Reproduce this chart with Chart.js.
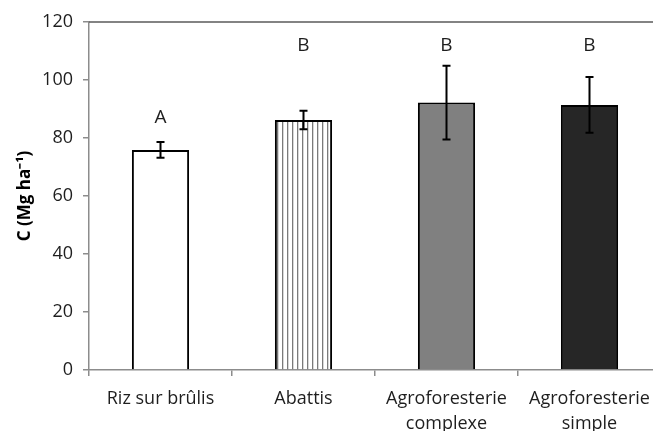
<!DOCTYPE html>
<html>
<head>
<meta charset="utf-8">
<script src="https://cdn.jsdelivr.net/npm/chart.js@4/dist/chart.umd.min.js"></script>
<style>
  html, body { margin: 0; padding: 0; background: #fff; overflow: hidden; }
  #wrap { width: 653px; height: 431px; overflow: hidden; }
</style>
</head>
<body>
<div id="wrap"><canvas id="chart" width="680" height="431"></canvas></div>
<script>
// data
const categories = ['Riz sur brûlis', 'Abattis', ['Agroforesterie', 'complexe'], ['Agroforesterie', 'simple']];
const carbon = [75.9, 86.2, 92.2, 91.4];
const errors = [2.7, 3.2, 12.7, 9.6];
const letters = ['A', 'B', 'B', 'B'];
const yTicks = [0, 20, 40, 60, 80, 100, 120];

const FONT = "'Open Sans', sans-serif";

// vertical hatching for the second bar
function stripes() {
  const c = document.createElement('canvas');
  c.width = 5; c.height = 10;
  const g = c.getContext('2d');
  g.fillStyle = '#fff';
  g.fillRect(0, 0, 5, 10);
  g.fillStyle = '#7a7a7a';
  g.fillRect(2, 0, 1.3, 10);
  return g.createPattern(c, 'repeat');
}

const fills = ['#ffffff', stripes(), '#808080', '#262626'];

// error bars, letters and the top frame line
const extras = {
  id: 'extras',
  afterDatasetsDraw(chart) {
    const ctx = chart.ctx;
    const x = chart.scales.x, y = chart.scales.y;
    const area = chart.chartArea;
    ctx.save();
    ctx.strokeStyle = '#5a5a5a';
    ctx.lineWidth = 1.5;
    ctx.beginPath();
    ctx.moveTo(area.left, area.top);
    ctx.lineTo(area.right, area.top);
    ctx.stroke();

    ctx.strokeStyle = '#000';
    ctx.lineWidth = 2;
    carbon.forEach(function (v, i) {
      const cx = x.getPixelForValue(i);
      const top = y.getPixelForValue(v + errors[i]);
      const bot = y.getPixelForValue(v - errors[i]);
      ctx.beginPath();
      ctx.moveTo(cx, top); ctx.lineTo(cx, bot);
      ctx.moveTo(cx - 4, top); ctx.lineTo(cx + 4, top);
      ctx.moveTo(cx - 4, bot); ctx.lineTo(cx + 4, bot);
      ctx.stroke();
    });

    ctx.fillStyle = '#1e1e1e';
    ctx.font = '19px ' + FONT;
    ctx.textAlign = 'center';
    ctx.textBaseline = 'middle';
    letters.forEach(function (l, i) {
      const cx = x.getPixelForValue(i);
      // A sits just above its error bar; the B's share one row near the top
      const mid = l === 'A' ? y.getPixelForValue(carbon[i] + errors[i]) - 24 : y.getPixelForValue(112);
      ctx.fillText(l, cx, mid);
    });
    ctx.restore();
  }
};

new Chart(document.getElementById('chart'), {
  type: 'bar',
  data: {
    labels: categories,
    datasets: [{
      data: carbon,
      backgroundColor: fills,
      borderColor: '#000',
      borderWidth: 2,
      borderSkipped: 'bottom',
      barPercentage: 0.4,
      categoryPercentage: 1
    }]
  },
  options: {
    responsive: false,
    animation: false,
    layout: { padding: { top: 22, right: 19, left: 0, bottom: 0 } },
    plugins: { legend: { display: false }, tooltip: { enabled: false } },
    scales: {
      x: {
        grid: { display: true, drawOnChartArea: false, tickLength: 6, color: '#8c8c8c', lineWidth: 1.5, offset: true },
        border: { color: '#8c8c8c', width: 1.5 },
        ticks: { color: '#1e1e1e', font: { family: FONT, size: 18, lineHeight: 1.4 }, padding: 10, maxRotation: 0 },
        afterFit: function (s) { s.height = 61; }
      },
      y: {
        min: 0, max: 120,
        afterBuildTicks: function (s) { s.ticks = yTicks.map(v => ({ value: v })); },
        grid: { display: true, drawOnChartArea: false, tickLength: 6, color: '#8c8c8c', lineWidth: 1.5 },
        border: { color: '#8c8c8c', width: 1.5 },
        ticks: { color: '#1e1e1e', font: { family: FONT, size: 18 }, padding: 10 },
        title: { display: true, text: 'C (Mg ha⁻¹)', color: '#000', font: { family: FONT, size: 17, weight: 'bold' }, padding: { top: 15, bottom: 0 } },
        afterFit: function (s) { s.width = 89; }
      }
    }
  },
  plugins: [extras]
});
</script>
</body>
</html>
